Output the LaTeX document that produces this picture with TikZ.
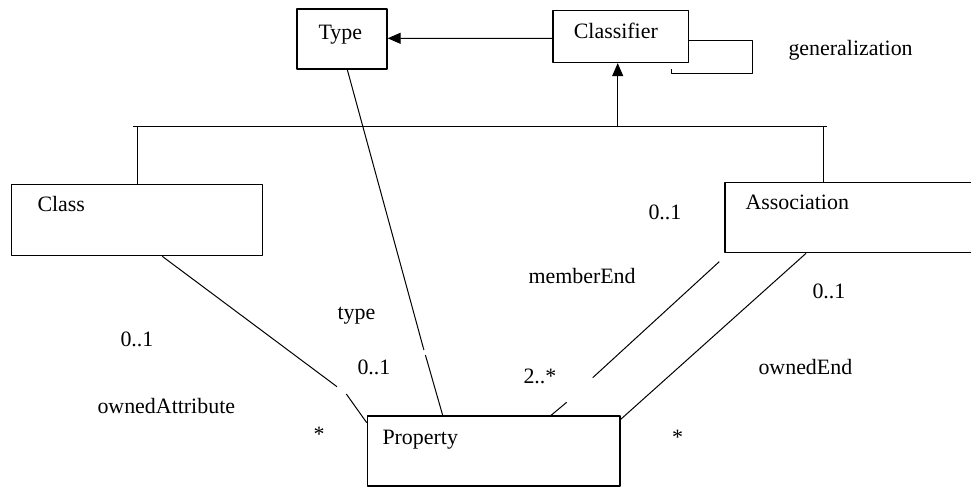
\documentclass[tikz,border=0pt]{standalone}
\usepackage{fontspec}
\setmainfont{Liberation Serif}
\usetikzlibrary{arrows.meta}
\tikzset{
  umlbox/.style={draw,line width=1.3bp,inner sep=0pt},
  umltext/.style={anchor=base west,inner sep=0pt,font=\fontsize{22pt}{26pt}\selectfont},
}
\begin{document}
\begin{tikzpicture}[>={Triangle[length=13bp,width=11bp]},line join=bevel,line width=1bp]
\useasboundingbox (0bp,0bp) rectangle (971bp,487bp);
%% classes
\node (node_type) at (342bp,448bp) [umlbox,minimum width=90bp,minimum height=60bp] {};
  \node (node_classifier) at (620.7bp,450.4bp) [umlbox,minimum width=135.5bp,minimum height=51.8bp] {};
  \node (node_class) at (137.2bp,267bp) [umlbox,minimum width=251bp,minimum height=71.4bp] {};
  \node (node_assoc) at (853bp,269.5bp) [umlbox,minimum width=256bp,minimum height=70.4bp] {};
  \node (node_property) at (493.7bp,36bp) [umlbox,minimum width=252.7bp,minimum height=70bp] {};
%% class names
\node (text_type) at (318bp,447.7bp) [umltext] {Type};
  \node (text_classifier) at (573.3bp,448bp) [umltext] {Classifier};
  \node (text_class) at (37bp,275.3bp) [umltext] {Class};
  \node (text_assoc) at (745bp,277bp) [umltext] {Association};
  \node (text_property) at (382bp,42.7bp) [umltext] {Property};
%% labels
\node (lbl_gen) at (788bp,431bp) [umltext] {generalization};
  \node (lbl_attr_m) at (120bp,140.3bp) [umltext] {0..1};
  \node (lbl_attr) at (97bp,73.7bp) [umltext] {ownedAttribute};
  \node (lbl_attr_s) at (313bp,45bp) [umltext] {*};
  \node (lbl_type) at (337bp,167bp) [umltext] {type};
  \node (lbl_type_m) at (357bp,112bp) [umltext] {0..1};
  \node (lbl_member) at (528bp,203bp) [umltext] {memberEnd};
  \node (lbl_member_m) at (648bp,267bp) [umltext] {0..1};
  \node (lbl_member_s) at (523bp,103.7bp) [umltext] {2..*};
  \node (lbl_owned_m) at (812bp,188.7bp) [umltext] {0..1};
  \node (lbl_owned) at (758bp,112bp) [umltext] {ownedEnd};
  \node (lbl_owned_s) at (671.5bp,42bp) [umltext] {*};
%% points
\coordinate (bar_l) at (133bp,360.3bp);
  \coordinate (bar_r) at (826.7bp,360.3bp);
  \coordinate (bar_gen) at (617.7bp,360.3bp);
  \coordinate (bar_assoc) at (823bp,360.3bp);
  \coordinate (type_a) at (423.9bp,137bp);
  \coordinate (type_b) at (425.4bp,132bp);
  \coordinate (attr_a) at (337bp,100.3bp);
  \coordinate (attr_b) at (346.3bp,93bp);
  \coordinate (member_a) at (592.7bp,109.3bp);
  \coordinate (member_b) at (566.7bp,84.7bp);
%% generalization
\draw [->] ([yshift=-1.7bp]node_classifier.west) -- ([yshift=0.7bp]node_type.east);
  \draw [->] (bar_gen) -- (bar_gen |- node_classifier.south);
  \draw (bar_l) -- (bar_r);
  \draw (node_class.north |- bar_l) -- (node_class.north);
  \draw (bar_assoc) -- (bar_assoc |- node_assoc.north);
  \draw ([yshift=-4.1bp]node_classifier.east) -- ++(63.8bp,0bp) |- (671.7bp,413bp) -- ++(0bp,5bp);
%% associations
\draw ([xshift=5.3bp]node_type.south) -- (type_a);
  \draw (type_b) -- ([xshift=-51bp]node_property.north);
  \draw ([xshift=25.1bp]node_class.south) -- (attr_a);
  \draw (attr_b) -- ([yshift=-7.3bp]node_property.north west);
  \draw ([xshift=-133.7bp,yshift=-8.3bp]node_assoc.south) -- (member_a);
  \draw (member_b) -- ([xshift=57.3bp]node_property.north);
  \draw ([xshift=-47bp]node_assoc.south) -- ([yshift=-4bp]node_property.north east);
%
\end{tikzpicture}
\end{document}
